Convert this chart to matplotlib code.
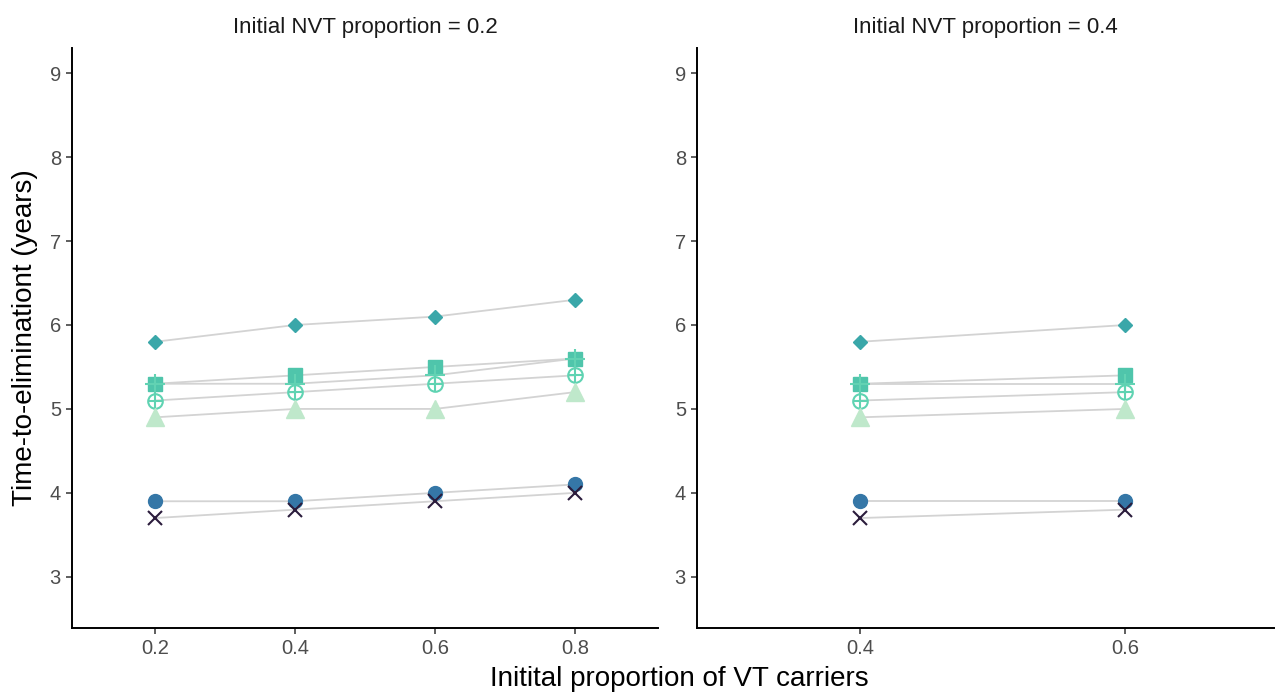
import matplotlib
matplotlib.use("Agg")
import matplotlib.pyplot as plt

plt.rcParams['font.family'] = ['Liberation Sans', 'DejaVu Sans']

# panel 1: initial NVT proportion = 0.2
x1 = [0.2, 0.4, 0.6, 0.8]
diamond1 = [5.8, 6.0, 6.1, 6.3]
square1 = [5.3, 5.4, 5.5, 5.6]
plus1 = [5.3, 5.3, 5.4, 5.6]
oplus1 = [5.1, 5.2, 5.3, 5.4]
triangle1 = [4.9, 5.0, 5.0, 5.2]
circle1 = [3.9, 3.9, 4.0, 4.1]
cross1 = [3.7, 3.8, 3.9, 4.0]

# panel 2: initial NVT proportion = 0.4
x2 = [0.4, 0.6]
diamond2 = [5.8, 6.0]
square2 = [5.3, 5.4]
plus2 = [5.3, 5.3]
oplus2 = [5.1, 5.2]
triangle2 = [4.9, 5.0]
circle2 = [3.9, 3.9]
cross2 = [3.7, 3.8]

titles = ["Initial NVT proportion = 0.2", "Initial NVT proportion = 0.4"]

styles = [
    # (marker, size, color, filled)
    ("D", 7.5, "#3aa7a9", True),
    ("s", 9.5, "#4fc5ab", True),
    ("+", 14, "#62d2b3", False),
    ("o", 10.5, "#5fd3b2", "oplus"),
    ("^", 12.5, "#bfe8cb", True),
    ("o", 10, "#3577a7", True),
    ("x", 10.5, "#2b1c3c", False),
]

fig = plt.figure(figsize=(12.76, 6.95), dpi=100)
ax1 = fig.add_axes([72 / 1276, 1 - 628 / 695, 586 / 1276, 580 / 695])
ax2 = fig.add_axes([697 / 1276, 1 - 628 / 695, 577 / 1276, 580 / 695])

panels = [
    (ax1, x1, [diamond1, square1, plus1, oplus1, triangle1, circle1, cross1], (0.081, 0.919), [0.2, 0.4, 0.6, 0.8]),
    (ax2, x2, [diamond2, square2, plus2, oplus2, triangle2, circle2, cross2], (0.277, 0.712), [0.4, 0.6]),
]

for i, (ax, xs, series, xlim, xt) in enumerate(panels):
    for ys in series:
        ax.plot(xs, ys, color="#d3d3d3", lw=1.3, zorder=1)
    for ys, (m, ms, c, f) in zip(series, styles):
        if f == "oplus":
            ax.plot(xs, ys, ls="none", marker="o", ms=ms, mfc="none", mec=c, mew=1.5, zorder=3)
            ax.plot(xs, ys, ls="none", marker="+", ms=ms, mec=c, mew=1.5, zorder=3)
        elif f:
            ax.plot(xs, ys, ls="none", marker=m, ms=ms, color=c, mec=c, zorder=3)
        else:
            ax.plot(xs, ys, ls="none", marker=m, ms=ms, mec=c, mew=1.5, zorder=3)
    ax.set_xlim(*xlim)
    ax.set_ylim(2.39, 9.3)
    ax.set_xticks(xt)
    ax.set_xticklabels([str(v) for v in xt])
    ax.set_yticks([3, 4, 5, 6, 7, 8, 9])
    for s in ["top", "right"]:
        ax.spines[s].set_visible(False)
    for s in ["left", "bottom"]:
        ax.spines[s].set_linewidth(1.4)
    ax.tick_params(labelsize=14.5, labelcolor="#4d4d4d", length=4, width=1.1,
                   color="#333333", pad=4)
    ax.set_title(titles[i], fontsize=16, color="#1a1a1a", pad=11)

fig.text(25 / 1276, 1 - 338 / 695, "Time-to-eliminationt (years)", fontsize=20,
         rotation=90, ha="center", va="center")
fig.text(679 / 1276, 1 - 679 / 695, "Initital proportion of VT carriers", fontsize=20,
         ha="center", va="center")

fig.savefig("out.png", dpi=100)
